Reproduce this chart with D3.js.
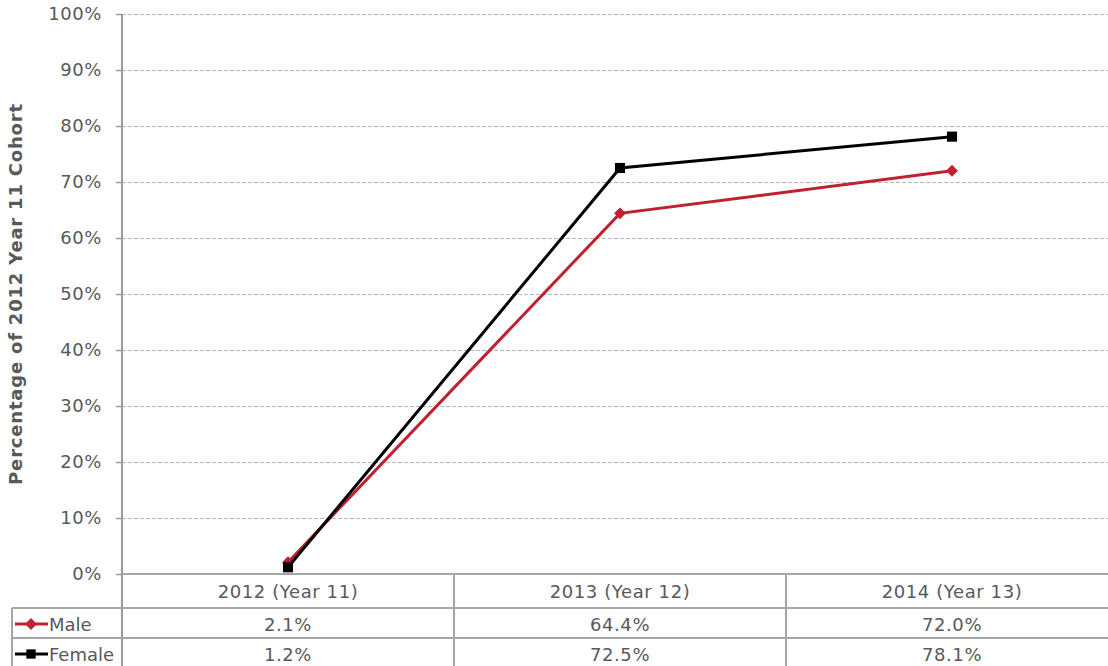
<!DOCTYPE html>
<html>
<head>
<meta charset="utf-8">
<script src="https://cdn.jsdelivr.net/npm/d3@7"></script>
<style>
	body { margin: 0; background: #fff; }
	text { font-family: "DejaVu Sans", Verdana, sans-serif; fill: #595959; letter-spacing: 0.6px; }
</style>
</head>
<body>
<div id="chart"></div>
<script>
var categories = ["2012 (Year 11)", "2013 (Year 12)", "2014 (Year 13)"];
var seriesNames = ["Male", "Female"];
var maleValues = [2.1, 64.4, 72.0];
var femaleValues = [1.2, 72.5, 78.1];
var yTicks = [0, 10, 20, 30, 40, 50, 60, 70, 80, 90, 100];

var width = 1108, height = 666;
var plotLeft = 122, plotTop = 14, plotBottom = 574, plotRight = 1118;
var rowH = 30;
var fontSize = 18;

var colors = { Male: "#c0202f", Female: "#000000" };

var series = [
	{ name: "Male", values: maleValues },
	{ name: "Female", values: femaleValues }
];

var svg = d3.select("#chart").append("svg")
	.attr("width", width)
	.attr("height", height);

var x = d3.scaleBand()
	.domain(categories)
	.range([plotLeft, plotRight]);

var y = d3.scaleLinear()
	.domain([0, 100])
	.range([plotBottom, plotTop]);

// gridlines
svg.append("g")
	.selectAll("line")
	.data(yTicks.filter(d => d > 0))
	.enter()
	.append("line")
	.attr("x1", plotLeft)
	.attr("x2", width)
	.attr("y1", d => y(d) + 0.5)
	.attr("y2", d => y(d) + 0.5)
	.attr("stroke", "#b8b8b8")
	.attr("stroke-dasharray", "4,2");

// y axis
var yAxis = g => g
	.attr("transform", `translate(${plotLeft},0)`)
	.call(d3.axisLeft(y).tickValues(yTicks).tickFormat(d => d + "%").tickSize(6).tickPadding(14))
	.call(g => g.selectAll(".tick line").attr("stroke", "#999").attr("stroke-width", 1.5))
	.call(g => g.select(".domain").remove())
	.call(g => g.selectAll("text").attr("font-size", fontSize).attr("fill", "#595959").attr("font-family", "DejaVu Sans, Verdana, sans-serif"));
svg.append("g").call(yAxis);

svg.append("line")
	.attr("x1", plotLeft).attr("x2", plotLeft)
	.attr("y1", plotTop).attr("y2", height)
	.attr("stroke", "#999").attr("stroke-width", 2);

// data table grid
var tableStroke = "#a6a6a6";
svg.append("line")
	.attr("x1", plotLeft).attr("x2", width)
	.attr("y1", plotBottom).attr("y2", plotBottom)
	.attr("stroke", tableStroke).attr("stroke-width", 2);
[plotBottom + 34, plotBottom + 34 + rowH].forEach(function(yy) {
	svg.append("line")
		.attr("x1", 12).attr("x2", width)
		.attr("y1", yy).attr("y2", yy)
		.attr("stroke", tableStroke).attr("stroke-width", 2);
});
svg.append("line")
	.attr("x1", 12).attr("x2", 12)
	.attr("y1", plotBottom + 34).attr("y2", height)
	.attr("stroke", tableStroke).attr("stroke-width", 2);
svg.selectAll(".colsep")
	.data(categories.slice(1))
	.enter()
	.append("line")
	.attr("x1", d => x(d)).attr("x2", d => x(d))
	.attr("y1", plotBottom).attr("y2", height)
	.attr("stroke", tableStroke).attr("stroke-width", 2);

// category labels
svg.selectAll(".cat")
	.data(categories)
	.enter()
	.append("text")
	.attr("x", d => x(d) + x.bandwidth() / 2)
	.attr("y", plotBottom + 24)
	.attr("text-anchor", "middle")
	.attr("font-size", fontSize)
	.text(d => d);

// table values
series.forEach(function(s, i) {
	var rowY = plotBottom + 34 + i * rowH;
	svg.selectAll(".val" + i)
		.data(s.values)
		.enter()
		.append("text")
		.attr("x", (d, j) => x(categories[j]) + x.bandwidth() / 2)
		.attr("y", rowY + 23)
		.attr("text-anchor", "middle")
		.attr("font-size", fontSize)
		.text(d => d.toFixed(1) + "%");

	svg.append("line")
		.attr("x1", 15).attr("x2", 48)
		.attr("y1", rowY + 16).attr("y2", rowY + 16)
		.attr("stroke", colors[s.name]).attr("stroke-width", 3);
	svg.append("path")
		.attr("transform", `translate(31,${rowY + 16})`)
		.attr("d", d3.symbol().type(s.name === "Male" ? d3.symbolDiamond2 : d3.symbolSquare2).size(s.name === "Male" ? 90 : 110))
		.attr("fill", colors[s.name]);
	svg.append("text")
		.attr("x", 49)
		.attr("y", rowY + 23)
		.attr("font-size", fontSize)
		.style("letter-spacing", "0px")
		.text(s.name);
});

// lines
var line = d3.line()
	.x((d, i) => x(categories[i]) + x.bandwidth() / 2)
	.y(d => y(d));

series.forEach(function(s) {
	svg.append("path")
		.datum(s.values)
		.attr("fill", "none")
		.attr("stroke", colors[s.name])
		.attr("stroke-width", 3)
		.attr("d", line);

	svg.selectAll(".m-" + s.name)
		.data(s.values)
		.enter()
		.append("path")
		.attr("transform", (d, i) => `translate(${x(categories[i]) + x.bandwidth() / 2},${y(d)})`)
		.attr("d", d3.symbol().type(s.name === "Male" ? d3.symbolDiamond2 : d3.symbolSquare2).size(s.name === "Male" ? 90 : 130))
		.attr("fill", colors[s.name]);
});

// y axis title
svg.append("text")
	.attr("transform", `translate(22,${(plotTop + plotBottom) / 2}) rotate(-90)`)
	.attr("text-anchor", "middle")
	.attr("font-size", fontSize)
	.attr("font-weight", "bold")
	.style("letter-spacing", "0.8px")
	.text("Percentage of 2012 Year 11 Cohort");
</script>
</body>
</html>
